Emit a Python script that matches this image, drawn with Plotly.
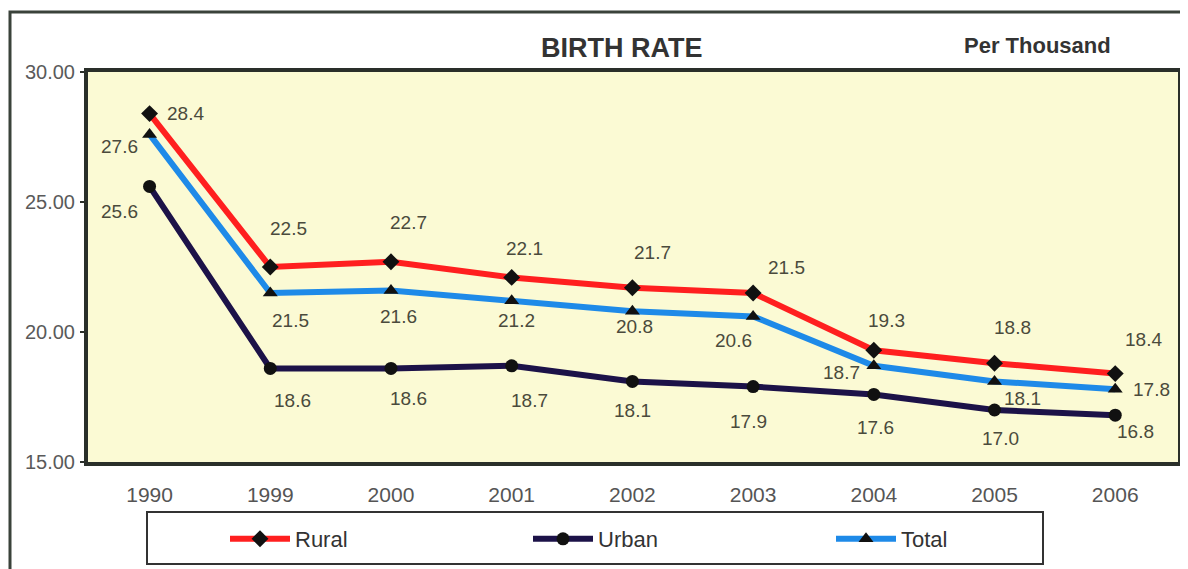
import plotly.graph_objects as go

years = ["1990", "1999", "2000", "2001", "2002", "2003", "2004", "2005", "2006"]
rural = [28.4, 22.5, 22.7, 22.1, 21.7, 21.5, 19.3, 18.8, 18.4]
urban = [25.6, 18.6, 18.6, 18.7, 18.1, 17.9, 17.6, 17.0, 16.8]
total = [27.6, 21.5, 21.6, 21.2, 20.8, 20.6, 18.7, 18.1, 17.8]
y_ticks = [15, 20, 25, 30]

# label offsets in pixels (dx, dy with dy positive = downwards)
rural_off = [(36, 0), (18, -39), (18, -39), (13, -29), (20, -35), (33, -26), (13, -30), (18, -36), (28, -34)]
urban_off = [(-30, 25), (22, 32), (18, 30), (18, 35), (0, 29), (-5, 35), (2, 33), (6, 28), (20, 16)]
total_off = [(-30, 12), (20, 27), (8, 26), (5, 20), (2, 15), (-20, 24), (-32, 7), (28, 17), (36, 0)]

FONT = "Liberation Sans, Arial, sans-serif"

fig = go.Figure()
series = [
    ("Rural", rural, "#ff1f1f", "diamond", rural_off),
    ("Urban", urban, "#1c1248", "circle", urban_off),
    ("Total", total, "#1e8ae8", "triangle-up", total_off),
]
for name, vals, color, sym, off in series:
    fig.add_trace(go.Scatter(
        x=years, y=vals, name=name, mode="lines+markers",
        line=dict(color=color, width=6),
        marker=dict(symbol=sym, size=13, color="#111111"),
    ))

annotations = []
for name, vals, color, sym, off in series:
    for i, (yv, (dx, dy)) in enumerate(zip(vals, off)):
        annotations.append(dict(
            x=i, y=yv, xref="x", yref="y", text=f"{yv:.1f}", showarrow=False,
            xshift=dx, yshift=-dy, font=dict(family=FONT, size=19, color="#4a4a3c"),
        ))

annotations.append(dict(text="<b>BIRTH RATE</b>", x=(622 - 88) / 1090, y=(462 - 48) / 390,
                        xref="paper", yref="paper", showarrow=False,
                        xanchor="center", yanchor="middle",
                        font=dict(family=FONT, size=27, color="#333333")))
annotations.append(dict(text="<b>Per Thousand</b>", x=(1037 - 88) / 1090, y=(462 - 45) / 390,
                        xref="paper", yref="paper", showarrow=False,
                        xanchor="center", yanchor="middle",
                        font=dict(family=FONT, size=22, color="#333333")))

shapes = [
    # outer frame
    dict(type="rect", xref="paper", yref="paper",
         x0=(10 - 88) / 1090, x1=1.05, y0=-0.6, y1=(462 - 12) / 390,
         line=dict(color="#3a423a", width=3), layer="below"),
    # legend box
    dict(type="rect", xref="paper", yref="paper",
         x0=(147 - 88) / 1090, x1=(1043 - 88) / 1090,
         y0=(462 - 564) / 390, y1=(462 - 512) / 390,
         line=dict(color="#333333", width=2), layer="above"),
]

# page body has an 8px margin; plot area on screen spans x 88-1178, y 72-462
fig.update_layout(
    width=1180, height=561,
    margin=dict(l=80, r=10, t=64, b=107, autoexpand=False),
    paper_bgcolor="white",
    plot_bgcolor="#fbfad4",
    font=dict(family=FONT, color="#444444"),
    annotations=annotations,
    shapes=shapes,
    showlegend=True,
    legend=dict(orientation="h", x=(225 - 88) / 1090, xanchor="left",
                y=(462 - 539) / 390, yanchor="middle",
                entrywidth=228, entrywidthmode="pixels",
                font=dict(family=FONT, size=22, color="#333333"),
                bgcolor="rgba(0,0,0,0)", borderwidth=0, itemwidth=60),
    xaxis=dict(type="category", categoryorder="array", categoryarray=years,
               range=[-0.51, 8.52], showgrid=False, zeroline=False,
               showline=True, linecolor="#2a2f2a", linewidth=4, mirror=True,
               ticks="", ticklabelstandoff=11,
               tickfont=dict(family=FONT, size=21, color="#555555")),
    yaxis=dict(range=[15, 30], tickvals=y_ticks, tickformat=".2f",
               showgrid=False, zeroline=False,
               showline=True, linecolor="#2a2f2a", linewidth=4, mirror=True,
               ticks="outside", ticklen=4, tickcolor="#2a2f2a", tickwidth=2,
               ticklabelstandoff=1,
               tickfont=dict(family=FONT, size=20, color="#5a5a5a")),
)

fig.write_html("out.html")
